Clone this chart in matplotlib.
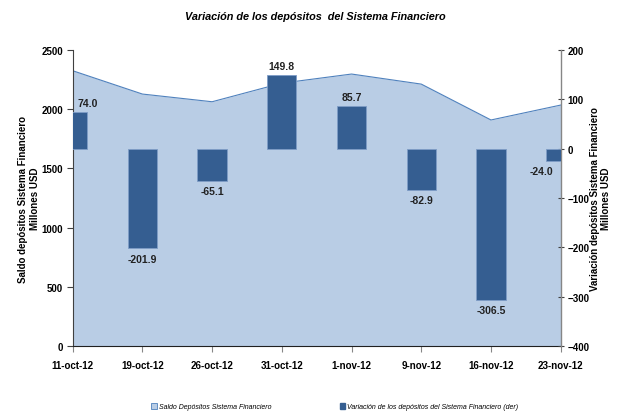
import matplotlib
matplotlib.use("Agg")
import matplotlib.pyplot as plt
from matplotlib.patches import Patch
import numpy as np

plt.rcParams['font.family'] = ['Liberation Sans Narrow', 'Liberation Sans', 'DejaVu Sans']

# ----------------------------------
# Data
# ----------------------------------
fechas = ["11-oct-12", "19-oct-12", "26-oct-12", "31-oct-12",
          "1-nov-12", "9-nov-12", "16-nov-12", "23-nov-12"]
saldo = [2325, 2128, 2063, 2220, 2297, 2212, 1909, 2035]
variacion = [74.0, -201.9, -65.1, 149.8, 85.7, -82.9, -306.5, -24.0]

area_fill = "#B9CDE5"
area_line = "#4F81BD"
bar_color = "#355E91"

x = np.arange(len(fechas))

fig = plt.figure(figsize=(6.26, 4.14), dpi=100)
ax = fig.add_axes([0.1161, 0.1618, 0.7796, 0.7150])

# area on the left axis
ax.fill_between(x, saldo, 0, color=area_fill, lw=0, zorder=1)
ax.plot(x, saldo, color=area_line, lw=0.8, zorder=2)
ax.set_xlim(0, len(fechas) - 1)
ax.set_ylim(0, 2500)
ax.set_yticks(range(0, 2501, 500))
ax.set_xticks(x)
ax.set_xticklabels(fechas)

# bars on the right axis
ax2 = ax.twinx()
ax2.bar(x, variacion, width=0.42, color=bar_color, edgecolor="#7F9DC7",
        linewidth=0.6, zorder=3)
ax2.set_ylim(-400, 200)
ax2.set_yticks(range(-400, 201, 100))

# data labels
for i, v in enumerate(variacion):
    xi = i
    if i == 0:
        xi = 0.22
    elif i == len(variacion) - 1:
        xi = i - 0.27
    if v >= 0:
        ax2.annotate(f"{v:.1f}", (xi, v), xytext=(0, 3), textcoords="offset points",
                     ha="center", va="bottom", fontsize=7.5, fontweight="bold",
                     color="#222222")
    else:
        ax2.annotate(f"{v:.1f}", (xi, v), xytext=(0, -4), textcoords="offset points",
                     ha="center", va="top", fontsize=7.5, fontweight="bold",
                     color="#222222")

# axes styling
for a in (ax, ax2):
    a.spines["top"].set_visible(False)
ax.spines["right"].set_visible(False)
ax2.spines["left"].set_visible(False)
ax2.spines["bottom"].set_visible(False)
ax.spines["left"].set_color("#404040")
ax.spines["bottom"].set_color("#202020")
ax2.spines["right"].set_color("#868686")
ax2.spines["right"].set_linewidth(1.0)

ax.tick_params(axis="y", labelsize=7, length=4, width=0.8, colors="#404040",
               labelcolor="black", pad=3)
ax.tick_params(axis="x", labelsize=7, length=4, width=0.8, colors="#868686",
               labelcolor="black", pad=6)
ax2.tick_params(axis="y", labelsize=7, length=4, width=0.8, direction="inout",
                colors="#404040", labelcolor="black", pad=3)
for lab in ax.get_xticklabels() + ax.get_yticklabels() + ax2.get_yticklabels():
    lab.set_fontweight("bold")

ax.set_ylabel("Saldo depósitos Sistema Financiero\nMillones USD", fontsize=7,
              fontweight="bold", labelpad=1)
ax2.set_ylabel("Variación depósitos Sistema Financiero\nMillones USD", fontsize=7,
               fontweight="bold", rotation=90, labelpad=0)

fig.text(0.503, 0.959, "Variación de los depósitos  del Sistema Financiero",
         ha="center", va="center", fontsize=7.8, fontweight="bold", style="italic")

handles = [Patch(facecolor=area_fill, edgecolor=area_line, linewidth=0.6),
           Patch(facecolor=bar_color, edgecolor=bar_color)]
labels = ["Saldo Depósitos Sistema Financiero",
          "Variación de los depósitos del Sistema Financiero (der)"]
fig.legend(handles, labels, loc="center", bbox_to_anchor=(0.535, 0.015), ncol=2,
           frameon=False, prop={"size": 5, "style": "italic"},
           handlelength=0.8, handleheight=0.8, handletextpad=0.3,
           columnspacing=9.8)

fig.savefig("out.png", dpi=100)
